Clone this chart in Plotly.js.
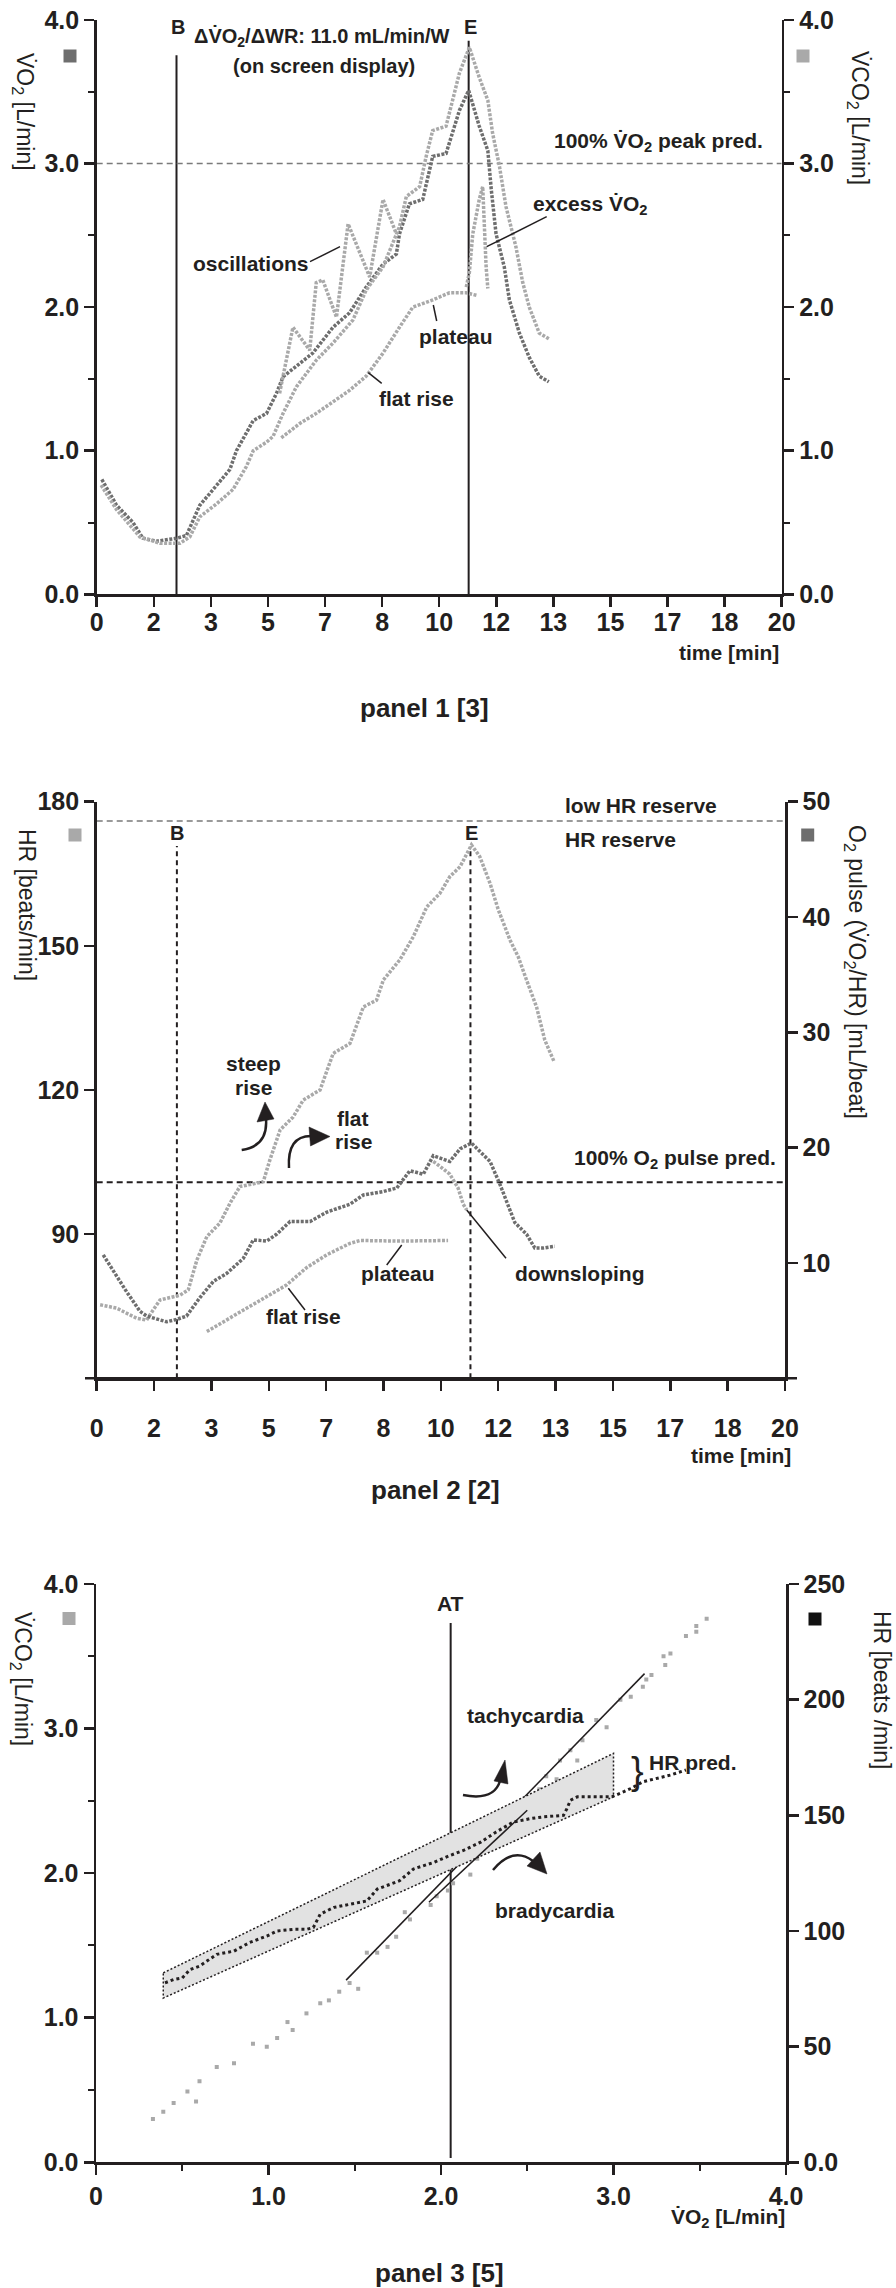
<!DOCTYPE html>
<html>
<head>
<meta charset="utf-8">
<script src="https://cdn.plot.ly/plotly-3.0.1.min.js"></script>
<style>
  body { margin: 0; background: #fff; }
  #chart { width: 896px; height: 2288px; }
</style>
</head>
<body>
<div id="chart"></div>
<script>
// Page size in pixels
const PageW = 896;
const PageH = 2288;

// Text settings
const FontFamily = '"Liberation Sans", Arial, Helvetica, sans-serif';
const Ink = '#231f20';
const DarkGray = '#6e6e6e';
const LightGray = '#a9a9a9';
const VDot = 'V\u0307';

// ---------- panel 1: VO2 / VCO2 over time ----------
const timeTickLabels = ['0', '2', '3', '5', '7', '8', '10', '12', '13', '15', '17', '18', '20'];

const p1Vo2Time = [0.15, 0.58, 1.06, 1.35, 1.75, 2.33, 2.62, 3.01, 3.4, 3.89, 4.08, 4.57, 4.96, 5.25, 5.44, 5.93, 6.31, 6.9, 7.38, 7.87, 8.36, 8.75, 8.84, 9.13, 9.52, 9.81, 10.2, 10.59, 10.86, 11.17, 11.42, 11.52, 11.66, 11.9, 12.05, 12.34, 12.63, 12.92, 13.2];
const p1Vo2 = [0.80, 0.62, 0.50, 0.39, 0.37, 0.39, 0.41, 0.62, 0.73, 0.87, 1.0, 1.21, 1.26, 1.40, 1.515, 1.61, 1.68, 1.86, 1.96, 2.14, 2.30, 2.37, 2.51, 2.72, 2.75, 3.05, 3.07, 3.37, 3.51, 3.26, 3.09, 2.82, 2.51, 2.28, 2.05, 1.82, 1.65, 1.52, 1.48];

const p1Vco2Time = [0.13, 0.58, 1.26, 1.85, 2.43, 2.72, 3.01, 3.5, 3.98, 4.37, 4.57, 4.96, 5.15, 5.44, 5.83, 6.41, 6.9, 7.48, 7.87, 8.36, 8.84, 9.04, 9.43, 9.62, 9.81, 10.2, 10.59, 10.88, 11.17, 11.42, 11.56, 11.76, 11.95, 12.24, 12.44, 12.63, 12.92, 13.2];
const p1Vco2 = [0.76, 0.59, 0.40, 0.355, 0.355, 0.40, 0.54, 0.63, 0.73, 0.89, 1.0, 1.06, 1.10, 1.26, 1.445, 1.63, 1.75, 1.91, 2.12, 2.28, 2.56, 2.77, 2.84, 3.05, 3.23, 3.26, 3.63, 3.81, 3.60, 3.44, 3.21, 2.98, 2.70, 2.42, 2.17, 2.0, 1.82, 1.78];

const p1OscTime = [5.34, 5.73, 6.22, 6.41, 6.6, 7.0, 7.34, 7.97, 8.36, 8.75];
const p1Osc = [1.40, 1.86, 1.70, 2.17, 2.19, 1.93, 2.58, 2.21, 2.75, 2.51];

const p1FlatTime = [5.39, 5.93, 6.41, 6.9, 7.38, 7.87, 8.36, 8.84, 9.23, 9.81, 10.3, 10.79, 11.13];
const p1Flat = [1.09, 1.19, 1.26, 1.34, 1.42, 1.52, 1.68, 1.86, 2.0, 2.05, 2.10, 2.10, 2.08];

const p1ExcessTime = [10.79, 10.88, 10.98, 11.17, 11.27, 11.32, 11.37, 11.42];
const p1Excess = [2.14, 2.24, 2.51, 2.75, 2.84, 2.51, 2.28, 2.13];

// Markers (minutes) and reference values
const markB = 2.33;
const markE = 10.86;
const vo2PeakPred = 3.0;

// ---------- panel 2: HR / O2 pulse over time ----------
const p2HrTime = [0.1, 0.58, 1.16, 1.45, 1.64, 1.84, 2.42, 2.66, 2.91, 3.2, 3.58, 3.87, 4.16, 4.84, 5.03, 5.33, 5.71, 6.0, 6.49, 6.87, 7.36, 7.75, 8.13, 8.33, 8.81, 9.2, 9.59, 9.97, 10.26, 10.56, 10.89, 11.13, 11.43, 11.67, 12.01, 12.25, 12.49, 12.78, 13.02, 13.29];
const p2Hr = [75.3, 74.6, 72.5, 72.1, 74.2, 76.3, 77.3, 78.4, 84.6, 89.5, 92.3, 96.4, 99.9, 100.9, 105.4, 111.7, 114.4, 117.9, 120, 127.6, 129.7, 137.3, 138.7, 142.9, 147.1, 151.9, 158.1, 160.9, 164.4, 166.5, 171, 168.6, 163, 157.5, 151.2, 147.7, 142.9, 137.3, 130.4, 125.9];

const p2PulseTime = [0.19, 0.48, 0.87, 1.26, 1.45, 2.03, 2.32, 2.61, 3.0, 3.39, 3.78, 4.26, 4.55, 4.94, 5.23, 5.62, 6.2, 6.68, 7.36, 7.75, 8.33, 8.72, 9.1, 9.49, 9.78, 10.26, 10.56, 10.89, 11.23, 11.43, 11.72, 12.0, 12.15, 12.49, 12.73, 12.98, 13.31];
const p2Pulse = [10.7, 9.3, 7.5, 5.8, 5.4, 4.9, 5.1, 5.4, 7.0, 8.4, 9.1, 10.4, 12.0, 11.9, 12.5, 13.6, 13.6, 14.4, 15.1, 15.9, 16.2, 16.5, 18.0, 17.7, 19.3, 18.8, 19.9, 20.4, 19.4, 18.8, 16.8, 14.6, 13.5, 12.5, 11.3, 11.3, 11.45];

const p2FlatTime = [3.2, 3.97, 4.74, 5.52, 6.1, 6.68, 7.36, 7.65, 8.81, 9.78, 10.21];
const p2Flat = [4.06, 5.4, 6.8, 8.1, 9.6, 10.7, 11.7, 11.95, 11.9, 11.95, 11.95];

const p2DownTime = [9.78, 9.88, 10.26, 10.5, 10.65, 10.75];
const p2Down = [18.8, 18.6, 17.7, 16.5, 15.1, 14.6];

const hrReserveLine = 176;
const o2PulsePred = 17;

// ---------- panel 3: VCO2 and HR against VO2 ----------
const p3Vo2A = [0.33, 0.39, 0.45, 0.53, 0.58, 0.60, 0.70, 0.80, 0.91, 0.99, 1.05, 1.11, 1.14, 1.22, 1.30, 1.35, 1.41, 1.47, 1.52, 1.57, 1.63, 1.69, 1.74, 1.79, 1.82, 1.94, 1.975, 2.04, 2.07, 2.17, 2.21, 2.32, 2.42, 2.50, 2.54, 2.57, 2.61, 2.67, 2.69, 2.75, 2.79, 2.82, 2.90, 2.96, 3.04, 3.10, 3.17, 3.19, 3.22, 3.29, 3.30, 3.33, 3.42, 3.48, 3.48, 3.54];
const p3Vco2 = [0.30, 0.35, 0.41, 0.49, 0.42, 0.56, 0.66, 0.685, 0.82, 0.80, 0.86, 0.97, 0.915, 1.03, 1.10, 1.12, 1.18, 1.24, 1.20, 1.45, 1.45, 1.49, 1.56, 1.73, 1.68, 1.78, 1.84, 1.88, 1.93, 1.99, 2.10, 2.23, 2.32, 2.44, 2.53, 2.58, 2.67, 2.65, 2.78, 2.85, 2.78, 2.92, 3.06, 3.01, 3.20, 3.22, 3.29, 3.34, 3.37, 3.50, 3.44, 3.52, 3.64, 3.67, 3.71, 3.76];

const p3Vo2B = [0.40, 0.45, 0.50, 0.545, 0.60, 0.70, 0.80, 0.89, 0.99, 1.05, 1.14, 1.22, 1.26, 1.30, 1.38, 1.47, 1.57, 1.63, 1.76, 1.84, 1.96, 2.05, 2.13, 2.23, 2.32, 2.42, 2.52, 2.59, 2.71, 2.73, 2.75, 2.79, 2.90, 2.99, 3.06, 3.10, 3.17, 3.25, 3.33, 3.42];
const p3Hr = [77.6, 79, 79.7, 83.3, 84.8, 89.9, 91.3, 95, 97.8, 100, 100.7, 100.7, 101.5, 107.3, 110.2, 111.6, 113, 118.1, 121.7, 126.8, 129.7, 132.6, 134.8, 138.4, 142.8, 147.1, 148.6, 149.3, 150, 152.9, 156.5, 158, 158, 158, 160.2, 161.6, 164.5, 166, 167.4, 169.6];

// predicted HR band (corners)
const bandVo2 = [0.39, 3.0];
const bandUpperHr = [81.9, 176.8];
const bandLowerHr = [71, 158];

// regression lines
const fitVo2 = [1.45, 3.18];
const fitVco2 = [1.26, 3.38];
const fitHrVo2 = [1.93, 2.50];
const fitHr = [112.4, 152.2];

const atVo2 = 2.056;

// Pixel to paper coordinates
function fx(x) { return x / PageW; }
function fy(y) { return 1 - y / PageH; }

// Trace helpers
function dottedTrace(x, y, xa, ya, color, width) {
    return {
        x: x, y: y, xaxis: xa, yaxis: ya,
        type: 'scatter', mode: 'lines', hoverinfo: 'none',
        line: { color: color, width: width || 3.5, dash: '3px,1.5px' }
    };
}

var traces = [
    dottedTrace(p1Vo2Time, p1Vo2, 'x', 'y', DarkGray),
    dottedTrace(p1Vco2Time, p1Vco2, 'x', 'y2', LightGray),
    dottedTrace(p1OscTime, p1Osc, 'x', 'y', LightGray, 3.5),
    dottedTrace(p1FlatTime, p1Flat, 'x', 'y', LightGray),
    dottedTrace(p1ExcessTime, p1Excess, 'x', 'y', LightGray),

    dottedTrace(p2HrTime, p2Hr, 'x2', 'y3', LightGray),
    dottedTrace(p2PulseTime, p2Pulse, 'x2', 'y4', DarkGray),
    dottedTrace(p2FlatTime, p2Flat, 'x2', 'y4', LightGray),
    dottedTrace(p2DownTime, p2Down, 'x2', 'y4', LightGray),

    // HR prediction band
    {
        x: [bandVo2[0], bandVo2[1], bandVo2[1], bandVo2[0], bandVo2[0]],
        y: [bandUpperHr[0], bandUpperHr[1], bandLowerHr[1], bandLowerHr[0], bandUpperHr[0]],
        xaxis: 'x3', yaxis: 'y6', type: 'scatter', mode: 'lines', hoverinfo: 'none',
        fill: 'toself', fillcolor: '#e2e2e2',
        line: { color: Ink, width: 1.5, dash: '2px,2px' }
    },
    {
        x: p3Vo2A, y: p3Vco2, xaxis: 'x3', yaxis: 'y5',
        type: 'scatter', mode: 'markers', hoverinfo: 'none',
        marker: { color: LightGray, size: 4, symbol: 'square' }
    },
    {
        x: p3Vo2B, y: p3Hr, xaxis: 'x3', yaxis: 'y6',
        type: 'scatter', mode: 'lines', hoverinfo: 'none',
        line: { color: Ink, width: 3, dash: '3px,3px' }
    },
    {
        x: fitVo2, y: fitVco2, xaxis: 'x3', yaxis: 'y5',
        type: 'scatter', mode: 'lines', hoverinfo: 'none',
        line: { color: Ink, width: 1.5 }
    },
    {
        x: fitHrVo2, y: fitHr, xaxis: 'x3', yaxis: 'y6',
        type: 'scatter', mode: 'lines', hoverinfo: 'none',
        line: { color: Ink, width: 1.5 }
    }
];

// Axis helpers
function baseAxis(extra) {
    return Object.assign({
        showline: true, linecolor: Ink, linewidth: 2.5,
        ticks: 'outside', ticklen: 10, tickwidth: 2.5, tickcolor: Ink,
        showgrid: false, zeroline: false, fixedrange: true,
        tickfont: { family: FontFamily, size: 25, color: Ink, weight: 700 }
    }, extra);
}

const halfMinor = { ticks: 'outside', ticklen: 6, tickwidth: 2, tickcolor: Ink, tick0: 0, dtick: 0.5, showgrid: false };

function timeAxis(x0, x1, anchor, standoff) {
    return baseAxis({
        domain: [fx(x0), fx(x1)], anchor: anchor, range: [0, 20],
        tickmode: 'array',
        tickvals: timeTickLabels.map((_, i) => i * 20 / (timeTickLabels.length - 1)),
        ticktext: timeTickLabels,
        ticklabelstandoff: standoff
    });
}

var layout = {
    width: PageW, height: PageH,
    margin: { l: 0, r: 0, t: 0, b: 0 },
    showlegend: false,
    paper_bgcolor: '#ffffff', plot_bgcolor: 'rgba(0,0,0,0)',

    xaxis: timeAxis(96.7, 781.7, 'y', -6),
    yaxis: baseAxis({ domain: [fy(594.3), fy(20)], anchor: 'x', range: [0, 4], tickmode: 'linear', tick0: 0, dtick: 1, tickformat: '.1f', minor: halfMinor }),
    yaxis2: baseAxis({ overlaying: 'y', side: 'right', anchor: 'x', range: [0, 4], tickmode: 'linear', tick0: 0, dtick: 1, tickformat: '.1f', minor: halfMinor }),

    xaxis2: timeAxis(96.7, 785, 'y3', 16),
    yaxis3: baseAxis({ domain: [fy(1378.3), fy(801.7)], anchor: 'x2', range: [60, 180], tickmode: 'array', tickvals: [90, 120, 150, 180] }),
    yaxis4: baseAxis({ overlaying: 'y3', side: 'right', anchor: 'x2', range: [0, 50], tickmode: 'array', tickvals: [10, 20, 30, 40, 50] }),

    xaxis3: baseAxis({ domain: [fx(96), fx(786)], anchor: 'y5', range: [0, 4], tickmode: 'array', tickvals: [0, 1, 2, 3, 4], ticktext: ['0', '1.0', '2.0', '3.0', '4.0'], minor: halfMinor }),
    yaxis5: baseAxis({ domain: [fy(2162.3), fy(1584)], anchor: 'x3', range: [0, 4], tickmode: 'linear', tick0: 0, dtick: 1, tickformat: '.1f', minor: halfMinor }),
    yaxis6: baseAxis({ overlaying: 'y5', side: 'right', anchor: 'x3', range: [0, 250], tickmode: 'array', tickvals: [0, 50, 100, 150, 200, 250], ticktext: ['0.0', '50', '100', '150', '200', '250'] }),

    shapes: [],
    annotations: []
};

// Shape helpers
function dataLine(xref, yref, x0, y0, x1, y1, color, width, dash) {
    return { type: 'line', xref: xref, yref: yref, x0: x0, y0: y0, x1: x1, y1: y1, layer: 'below',
        line: { color: color, width: width, dash: dash || 'solid' } };
}
function pxLine(x0, y0, x1, y1, width) {
    return { type: 'line', xref: 'paper', yref: 'paper', x0: fx(x0), y0: fy(y0), x1: fx(x1), y1: fy(y1),
        line: { color: Ink, width: width || 1.5 } };
}
function pxPath(points, fill) {
    // points: list of [cmd, x, y, ...] in page pixels
    var d = points.map(p => p[0] + ' ' + p.slice(1).map((v, i) => (i % 2 === 0 ? fx(v) : fy(v)).toFixed(5)).join(' ')).join(' ');
    return { type: 'path', xref: 'paper', yref: 'paper', path: fill ? d + ' Z' : d,
        fillcolor: fill ? Ink : 'rgba(0,0,0,0)', line: { color: Ink, width: fill ? 0.5 : 2.5 } };
}
function keySquare(cx, cy, color) {
    return { type: 'rect', xref: 'paper', yref: 'paper', x0: fx(cx - 6.5), x1: fx(cx + 6.5), y0: fy(cy + 6.5), y1: fy(cy - 6.5),
        fillcolor: color, line: { width: 0 } };
}
function note(text, x, y, size, xanchor, angle, weight) {
    return { xref: 'paper', yref: 'paper', x: fx(x), y: fy(y), text: text, showarrow: false,
        xanchor: xanchor || 'center', yanchor: 'middle', textangle: angle || 0,
        font: { family: FontFamily, size: size || 21, color: Ink, weight: weight || 700 } };
}

layout.shapes.push(
    // panel 1 markers
    dataLine('x', 'y', markB, 0, markB, 3.755, Ink, 2),
    dataLine('x', 'y', markE, 0, markE, 3.855, Ink, 2),
    dataLine('x', 'y', 0, vo2PeakPred, 20, vo2PeakPred, '#7a7a7a', 1.5, '6px,4px'),
    pxLine(310, 261.7, 340, 246.7),
    pxLine(433.3, 305, 436.7, 321),
    pxLine(368.3, 372.7, 381.7, 383.3),
    pxLine(546.7, 216.7, 486.7, 246.7),
    keySquare(70, 56, DarkGray),
    keySquare(803, 56, LightGray),

    // panel 2 markers
    dataLine('x2', 'y3', markB, 60, markB, 170.8, Ink, 2, '5px,4px'),
    dataLine('x2', 'y3', markE, 60, markE, 170, Ink, 2, '5px,4px'),
    dataLine('x2', 'y3', 0, hrReserveLine, 20, hrReserveLine, '#9a9a9a', 2, '6px,4px'),
    dataLine('x2', 'y4', 0, o2PulsePred, 20, o2PulsePred, Ink, 2, '6px,4px'),
    pxLine(85, 1378.3, 797, 1378.3, 2.5),
    pxLine(386.7, 1265, 401.7, 1245),
    pxLine(288.3, 1288.3, 305, 1310),
    pxLine(466.7, 1210, 506, 1258.3),
    keySquare(75, 835, LightGray),
    keySquare(807.7, 835, DarkGray),
    pxPath([['M', 241.7, 1150], ['Q', 268, 1146, 266, 1119]]),
    pxPath([['M', 265, 1102], ['L', 257, 1122], ['L', 274, 1119]], true),
    pxPath([['M', 289, 1168], ['Q', 287, 1136, 311, 1136]]),
    pxPath([['M', 330, 1136.5], ['L', 309, 1127], ['L', 310.5, 1146]], true),

    // panel 3 markers
    dataLine('x3', 'y5', atVo2, 0.03, atVo2, 3.73, Ink, 2),
    keySquare(69, 1618.5, LightGray),
    keySquare(815, 1619, '#111111'),
    pxPath([['M', 463, 1795], ['Q', 494, 1801, 500, 1781]]),
    pxPath([['M', 505, 1760], ['L', 494, 1781], ['L', 508, 1784]], true),
    pxPath([['M', 493, 1870], ['Q', 513, 1846, 533, 1861]]),
    pxPath([['M', 547, 1874], ['L', 527, 1866], ['L', 540, 1852]], true)
);

layout.annotations.push(
    // panel 1
    note('B', 177.5, 27, 20),
    note('E', 470, 27, 20),
    note('\u0394' + VDot + 'O<sub>2</sub>/\u0394WR: 11.0 mL/min/W', 322, 37, 20),
    note('(on screen display)', 324, 66, 20),
    note('100% ' + VDot + 'O<sub>2</sub> peak pred.', 765, 142, 21, 'right'),
    note('oscillations', 251, 263),
    note('excess ' + VDot + 'O<sub>2</sub>', 590, 205),
    note('plateau', 456, 336),
    note('flat rise', 376.7, 398, 21, 'left'),
    note(VDot + 'O<sub>2</sub> [L/min]', 24, 112, 23, 'center', 90, 400),
    note(VDot + 'CO<sub>2</sub> [L/min]', 858, 118, 23, 'center', 90, 400),
    note('time [min]', 781, 652, 21, 'right'),
    note('panel 1 [3]', 424, 708, 26),

    // panel 2
    note('B', 177.3, 833, 20),
    note('E', 471.7, 833, 20),
    note('low HR reserve', 563.3, 805, 21, 'left'),
    note('HR reserve', 563.3, 840, 21, 'left'),
    note('100% O<sub>2</sub> pulse pred.', 778.3, 1159, 21, 'right'),
    note('steep', 253.3, 1063.3),
    note('rise', 253.3, 1087),
    note('flat', 353.3, 1118.3),
    note('rise', 353.3, 1141.7),
    note('plateau', 398.3, 1273.3),
    note('flat rise', 303.3, 1316.7),
    note('downsloping', 579, 1273.3),
    note('HR [beats/min]', 27, 905, 23, 'center', 90, 400),
    note('O<sub>2</sub> pulse (' + VDot + 'O<sub>2</sub>/HR) [mL/beat]', 855, 972, 23, 'center', 90, 400),
    note('time [min]', 793, 1455, 21, 'right'),
    note('panel 2 [2]', 435, 1490, 26),

    // panel 3
    note('AT', 450.7, 1603),
    note('tachycardia', 525, 1715),
    note('bradycardia', 554, 1910),
    note('HR pred.', 693, 1762),
    note('}', 637, 1771, 38, 'center', 0, 400),
    note(VDot + 'CO<sub>2</sub> [L/min]', 22, 1679, 23, 'center', 90, 400),
    note('HR [beats /min]', 882, 1690, 23, 'center', 90, 400),
    note(VDot + 'O<sub>2</sub> [L/min]', 786.7, 2218, 21, 'right'),
    note('panel 3 [5]', 439, 2273, 26)
);

Plotly.newPlot('chart', traces, layout, { displayModeBar: false, staticPlot: true });
</script>
</body>
</html>
